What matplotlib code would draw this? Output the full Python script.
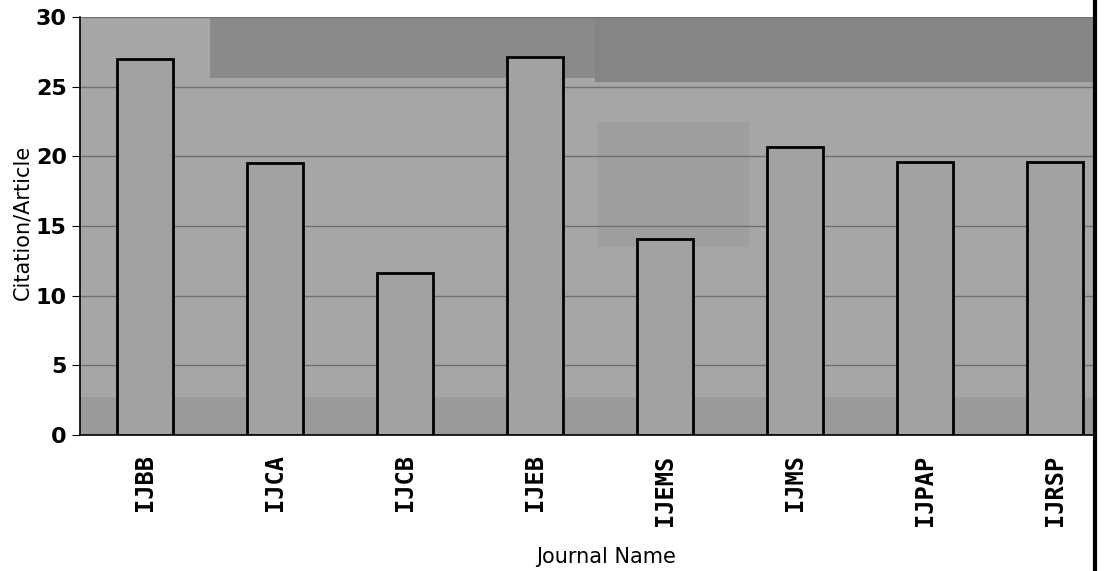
import numpy as np
import matplotlib
matplotlib.use("Agg")
import matplotlib.pyplot as plt
from matplotlib.lines import Line2D
from matplotlib.patches import Rectangle

journals = ["IJBB", "IJCA", "IJCB", "IJEB", "IJEMS", "IJMS", "IJPAP", "IJRSP"]
cites_per_article = [27.0, 19.5, 11.6, 27.1, 14.1, 20.7, 19.6, 19.6]
yticks = [0, 5, 10, 15, 20, 25, 30]

W, H = 1117, 571
fig = plt.figure(figsize=(W / 100, H / 100), dpi=100)
fig.patch.set_facecolor("white")

# axes box in pixel terms
L, R, T, B = 80, 1093, 17, 435
ax = fig.add_axes([L / W, 1 - B / H, (R - L) / W, (B - T) / H])
ax.set_facecolor("#a6a6a6")

# scanned-page shading
for (x0, y0, w, h, c) in [(0.128, 0.855, 0.38, 0.145, "#8a8a8a"),
                          (0.508, 0.845, 0.5, 0.155, "#858585"),
                          (0.0, 0.0, 1.0, 0.09, "#9a9a9a"),
                          (0.51, 0.45, 0.15, 0.3, "#9e9e9e")]:
    ax.add_patch(Rectangle((x0, y0), w, h, transform=ax.transAxes,
                           facecolor=c, edgecolor="none", zorder=0))

x = np.arange(len(journals))
ax.bar(x, cites_per_article, width=0.43, color="#a2a2a2", edgecolor="black",
       linewidth=2, zorder=3)

ax.set_xlim(-0.5, 7.29)
ax.set_ylim(0, 30)
ax.set_yticks(yticks)
ax.yaxis.grid(True, color="#707070", lw=1)
ax.set_axisbelow(True)
for s in ["top", "right"]:
    ax.spines[s].set_visible(False)
ax.spines["left"].set_linewidth(1.2)
ax.spines["bottom"].set_linewidth(1.2)

ax.set_xticks(x)
ax.set_xticklabels(journals, rotation=90, fontsize=17, fontweight="bold",
                   family="DejaVu Sans Mono")
ax.tick_params(axis="x", length=0, pad=14)
ax.tick_params(axis="y", length=6, labelsize=16)
for t in ax.get_yticklabels():
    t.set_fontweight("bold")

fig.text(606 / W, 1 - 557 / H, "Journal Name", fontsize=15, ha="center", va="center")
fig.text(22 / W, 1 - 222 / H, "Citation/Article", fontsize=15, rotation=90,
         ha="center", va="center")

# page edge from the scan
fig.add_artist(Line2D([1095 / W, 1095 / W], [0, 1], color="black", lw=3))

fig.savefig("out.png", dpi=100)
